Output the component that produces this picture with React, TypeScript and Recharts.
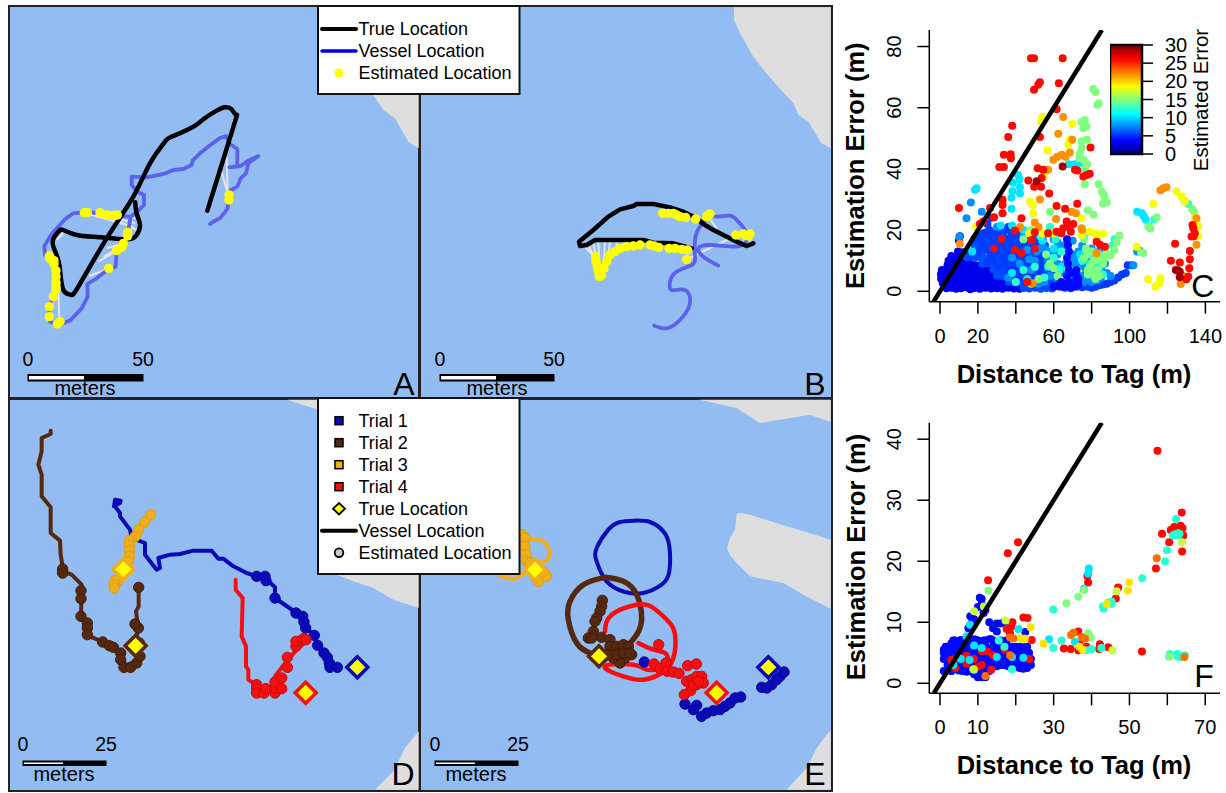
import { ComposedChart, Area, Line, Scatter, XAxis, YAxis, ReferenceArea } from 'recharts';

type Pair = number[];

const WATER = '#93bdf2';
const LAND = '#dedede';
const VESSEL = '#5c63ea';
const FONT = '"Liberation Sans", Arial, sans-serif';

// map tracks, in map units (3 units to a screen pixel, y running down)
const aTrue = [[622,632],[660,510],[705,365],[708,345],[695,328],[675,322],[650,332],[610,358],[580,380],[515,410],[495,425],[450,490],[400,590],[320,715],[235,860],[212,884],[190,870],[180,810],[170,765],[158,725],[175,695],[190,690],[230,705],[300,712],[380,718],[410,705],[420,675],[410,640],[406,607]];
const aVessel = [[630,672],[645,662],[660,655],[672,640],[683,625],[685,600],[690,572],[712,560],[722,535],[738,520],[745,490],[775,468],[745,482],[722,498],[688,502],[712,500],[712,447],[690,432],[678,408],[660,414],[630,436],[600,460],[578,482],[575,495],[550,507],[520,510],[497,520],[470,526],[440,532],[395,530],[395,555],[412,575],[432,585],[432,615],[415,632],[392,650],[385,690],[372,725],[350,752],[347,800],[322,810],[290,835],[262,852],[263,890],[245,925],[212,960],[178,975],[150,965],[148,950],[148,920],[160,890],[168,865],[168,810],[160,785],[135,765],[133,738],[155,702],[195,658],[220,640],[260,636],[300,640],[350,648],[392,650]];
const aEst = [[253,638],[262,638],[300,638],[320,645],[327,646],[343,646],[352,645],[383,697],[383,708],[370,730],[365,742],[350,752],[326,805],[148,768],[150,775],[162,782],[162,792],[168,812],[168,830],[168,848],[168,860],[168,868],[160,890],[148,920],[148,950],[172,972],[180,965],[687,585],[687,600]];
const aLinks = [[258,640,400,680],[300,640,405,670],[325,648,410,690],[350,648,405,655],[350,752,295,785],[365,740,310,770],[372,730,320,745],[326,805,268,828],[175,870,178,960],[170,720,190,700],[165,730,160,760],[683,585,680,470],[680,570,665,515],[148,950,160,900]];
const aLand = [[1120,18,285],[1150,18,330],[1185,18,355],[1225,18,425],[1256,18,445]];

const bTrue = [[815,745],[760,730],[700,728],[670,720],[600,720],[525,720],[500,735],[480,738],[477,725],[520,690],[565,650],[600,628],[640,618],[650,612],[700,612],[750,622],[790,635],[830,655],[850,672],[880,690],[910,705],[950,725],[980,738],[1000,730]];
const bVessel = [[703,977],[740,985],[775,965],[805,925],[808,885],[785,868],[755,870],[750,845],[770,815],[815,795],[825,770],[825,720],[840,680],[870,650],[890,650],[930,647],[955,665],[980,700],[975,730],[940,740],[870,735],[835,745],[850,770],[895,797]];
const bEst = [[527,770],[528,785],[532,800],[535,815],[538,830],[545,825],[552,805],[560,785],[570,765],[585,755],[600,745],[620,740],[640,738],[660,735],[690,735],[703,738],[716,742],[747,745],[765,745],[785,748],[803,750],[800,778],[728,640],[745,640],[760,640],[770,645],[780,650],[797,652],[827,657],[860,650],[865,645],[870,642],[947,705],[970,702],[985,708],[990,702]];
const bLinks = [[527,775,490,735],[530,790,505,735],[535,810,520,730],[540,825,535,728],[550,810,555,725],[565,770,570,725],[590,750,590,725],[610,745,610,725],[800,778,945,708],[865,650,890,685],[985,708,990,725],[970,702,975,735],[947,705,950,725]];
const bLand = [[942,22,60],[960,22,100],[1000,22,170],[1035,22,215],[1070,22,255],[1120,22,310],[1135,22,345],[1165,22,365],[1205,22,430],[1232,22,445]];

const dBlueLine = [[345,305],[342,325],[360,315],[362,308],[345,305],[345,325],[360,345],[360,355],[390,395],[395,420],[435,435],[435,470],[470,515],[480,510],[475,480],[510,470],[540,468],[580,458],[635,458],[655,482],[670,482],[700,505],[740,525],[770,535],[795,540],[825,568],[825,600],[890,645],[910,660],[915,685],[945,715],[952,745],[975,770],[990,805],[1015,808]];
const dBluePts = [[770,535],[795,535],[798,548],[825,600],[888,645],[908,655],[912,672],[917,690],[943,712],[953,742],[972,765],[982,778],[988,795],[990,808],[1012,808]];
const dBrownLine = [[152,98],[152,108],[125,120],[125,160],[115,200],[125,230],[125,295],[152,328],[152,405],[180,428],[182,470],[190,520],[215,530],[245,560],[243,655],[262,680],[262,712],[305,730],[360,765],[370,805],[410,790],[420,770],[400,760],[405,740],[415,690],[408,640],[416,625],[416,570]];
const dBrownPts = [[188,513],[188,525],[243,578],[243,602],[243,655],[262,675],[262,690],[262,710],[308,732],[328,743],[340,748],[362,765],[362,785],[372,808],[392,808],[410,795],[420,775],[418,735],[415,690],[405,678],[416,568]];
const dGoldPts = [[452,350],[434,372],[416,395],[406,415],[388,428],[388,442],[388,458],[388,475],[385,490],[375,510],[365,535],[355,548],[345,548],[342,560],[343,570]];
const dRedLine = [[707,545],[707,575],[728,600],[725,715],[738,745],[738,805],[745,815],[745,845],[770,860],[800,880],[825,875],[825,835],[860,790],[890,755],[930,720]];
const dRedPts = [[770,860],[770,872],[770,885],[792,885],[798,872],[825,885],[825,870],[825,852],[845,872],[845,840],[862,808],[862,778],[888,745],[888,730],[910,722],[918,725]];
const dTrue = [[1072,808],[407,743],[370,514],[917,884]];
const dLandTop = [[862,5,5],[900,5,18],[955,5,35]];
const dLandMid = [[1010,520,530],[1060,520,550],[1120,520,570],[1180,520,605],[1256,520,630]];
const dLandLow = [[1125,1175,1175],[1180,1120,1175],[1215,1050,1175],[1256,1000,1175]];

const eBlueLine = [[640,368],[690,372],[730,400],[748,445],[748,520],[725,560],[670,585],[615,582],[560,550],[530,490],[530,450],[565,395],[600,372],[640,368]];
const eBluePts = [[795,918],[820,935],[830,922],[845,955],[860,945],[880,938],[900,935],[915,925],[930,915],[945,900],[962,897],[1025,868],[1040,870],[1055,860],[1070,845],[1080,835],[1092,822],[673,792]];
const eBrownLine = [[555,538],[610,550],[650,590],[665,660],[650,710],[610,755],[560,778],[510,765],[470,735],[445,665],[450,610],[490,560],[555,538]];
const eBrownPts = [[547,607],[545,625],[540,640],[530,660],[525,670],[520,700],[505,720],[515,720],[545,718],[570,725],[570,745],[590,745],[610,740],[625,745],[635,770],[615,780],[600,795],[580,780],[560,770],[590,770],[610,765],[630,765]];
const eGoldLine = [[330,425],[370,430],[388,465],[375,490],[340,500],[300,535],[270,542],[235,530]];
const eGoldPts = [[305,410],[315,420],[315,445],[318,470],[320,490],[330,495],[345,535],[355,550],[380,535],[370,520]];
const eRedLine = [[555,700],[575,650],[650,620],[700,630],[745,670],[765,710],[760,780],[725,825],[670,845],[610,835],[555,805],[640,800],[680,815],[730,810],[745,790],[735,765],[700,755],[655,735]];
const eRedPts = [[716,740],[702,798],[720,812],[738,795],[742,820],[760,822],[777,826],[803,803],[829,798],[800,850],[815,845],[830,835],[845,835],[850,855],[830,860],[812,878],[793,890],[820,860],[835,850]];
const eTrue = [[1045,808],[537,775],[345,515],[890,884]];
const eLandTop = [[838,5,5],[950,5,30],[1020,5,75],[1080,5,65],[1170,5,50],[1232,5,72]];
const eLandMid = [[922,447,452],[930,420,472],[945,395,490],[950,347,495],[965,345,510],[990,350,535],[1090,382,555],[1150,400,590],[1232,425,632]];
const eLandLow = [[1100,1175,1175],[1160,1110,1175],[1190,1050,1175],[1232,995,1175]];

// panel C: [distance to tag, estimation error], grouped by estimated error
const cDeep = [[3.5,1],[6.2,1.2],[8.5,0.8],[11,1],[13.6,1.3],[16,0.7],[18.2,1.1],[21,0.8],[24,1.2],[27,0.9],[30,1],[33,0.8],[36,1.2],[39,0.9],[42,0.8],[1.5,2.6],[4,2.4],[6.5,2.7],[9,2.3],[12,2.6],[14,2.4],[17,2.8],[19.5,2.3],[22,2.6],[25,2.5],[28,2.2],[31,2.7],[34,2.4],[37,2.6],[40,2.2],[0.6,4],[3,4.2],[5.5,3.9],[8,4.3],[10.5,4],[13,4.2],[15.5,3.8],[18,4.2],[20.5,4],[23,4.3],[26,3.9],[29,4.2],[32,4],[35,3.7],[0.5,5.6],[2.5,5.4],[5,5.7],[7.5,5.3],[10,5.6],[12.5,5.5],[15,5.8],[18,5.4],[21,5.6],[24,5.3],[27,5.7],[30,5.4],[1,7],[3.5,7.2],[6,6.9],[9,7.2],[12,7],[14.5,7.2],[17,6.8],[20,7.1],[23,6.9],[26,7.2],[4,8.6],[6.5,8.8],[9,8.4],[11.5,8.7],[14,8.5],[17,8.8],[20,8.4],[22.5,8.7],[4.5,10],[7,10.2],[9.5,9.9],[12,10.2],[15,10],[6,11.5],[8.5,11.3],[11,11.6],[13.5,11.4],[9.5,13],[12,12.8],[10,16.5],[10.5,18]];
const cBlue = [[25,22],[26,20],[27,24],[26,18],[28,16],[24,14],[22,16],[20,13],[18,17],[16,12],[30,19],[32,21],[34,20],[36,21],[38,19],[40,18],[42,20],[44,16],[46,17],[48,14],[50,12],[30,13],[33,15],[35,13],[37,16],[39,12],[41,14],[43,11],[45,12],[47,10],[49,9],[52,11],[54,13],[28,10],[31,8],[34,9],[37,10],[40,8],[43,7],[46,6],[49,5],[52,6],[55,8],[58,7],[61,6],[45,3],[48,2],[51,3],[54,2],[57,4],[60,2],[63,1.5],[66,1.2],[69,1],[72,1.5],[75,1.3],[78,1.5],[80,1.2],[82,1.5],[84,2],[86,2.2],[88,2.5],[90,3],[92,3.5],[94,4.5],[96,5.5],[98,6],[99,8.5],[101,8.5],[33,11],[36,7],[39,5.5],[42,4.5],[44,9],[47,8],[50,4],[53,8.5],[56,5],[29,15],[31,17],[23,19],[21,18],[27,12],[25,9.5],[35,17],[38,14],[40,10.5],[42,15.5],[44,13],[48,17],[51,15],[53,16],[56,11]];
const cFill = [[24.3,19.2],[28.1,19],[33.2,18.7],[37.4,19.3],[41.2,19],[45,18.6],[20.2,17.2],[23.4,17],[26.3,16.8],[30.2,17.3],[33.4,16.9],[36.1,17.2],[39.3,16.7],[43.2,17.1],[46.3,16.8],[50.1,17.2],[54.2,16.9],[18.2,15.1],[21.3,14.8],[25.2,15.2],[27.4,14.9],[31.1,15.3],[34.2,14.8],[37.3,15.1],[40.2,15.2],[43.1,14.8],[46.2,15.1],[49.3,15.2],[52.1,14.9],[55.4,15],[15.3,13.1],[19.1,13.2],[22.3,12.9],[26.1,13.2],[29.2,12.8],[32.3,13.1],[36.2,13],[38.4,12.8],[41.1,13.2],[44.3,12.9],[47.2,13.1],[50.3,12.8],[53.2,13.2],[56.1,13],[59.2,12.8],[14.2,11.1],[18.1,10.9],[21.2,11.2],[24.3,10.8],[27.1,11.1],[30.4,10.9],[35.2,11.2],[38.1,11],[41.3,10.8],[45.2,11.1],[48.1,10.9],[51.3,11.2],[54.2,10.8],[57.1,11],[22.3,9],[25.1,9.2],[28.3,8.8],[30.2,9.1],[33.4,9.2],[36.1,8.9],[39.2,9.1],[42.3,8.8],[45.1,9.2],[48.2,8.9],[51.3,9.1],[54.1,9],[57.3,8.8],[28.2,7.1],[30.3,6.9],[33.1,7.2],[35.2,6.8],[38.3,7.1],[41.1,6.9],[44.2,7.2],[47.3,6.8],[50.1,7.1],[53.2,7],[56.3,6.9],[30.1,5.1],[33.2,4.9],[36.3,5.2],[38.1,4.8],[41.2,5.1],[44.3,4.9],[47.1,5.2],[50.2,4.8],[53.3,5.1],[59.2,5],[36.2,3.1],[39.1,2.9],[42.3,3.2],[44.1,2.8],[47.2,3.1],[53.3,2.9],[56.1,3.2],[59.3,3],[44.2,1.1],[47.1,0.9],[50.3,1.2],[53.2,0.8],[56.2,1.1],[59.1,0.9]];
const cAzure = [[16.3,29],[14,23.9],[22,26],[10.2,17.9],[104,13],[105.5,13.2],[102,8.5],[47,10.5],[51,13],[55,14],[58,13],[44,18],[46,13.5],[57,10],[60,9],[62,12],[65,15],[70,12],[72,9],[75,15],[70,16.5],[62,4],[76,8],[78,4],[80,3],[85,4.5],[30,21],[48,7],[52,2.5],[58,5],[36,4.5],[62,9],[64,6],[66,9],[69,9],[71,11],[73,13],[74,5],[76,3],[77,6],[79,11],[81,8],[83,3.5],[85,7],[87,9],[88,6],[90,5],[84,13],[80,14],[70,4],[63,14],[60,17],[62,16],[55,3],[59,11],[42,9],[38,11],[50,10],[53,14]];
const cCyan = [[19.3,33.7],[18.5,33.2],[41.3,38],[42,36.5],[38.5,35.5],[42.2,34],[38.2,32.7],[42.2,32],[37.7,30.6],[37.7,27],[68,41.5],[71,41.5],[73,41.8],[75,42.5],[104,26],[106.5,25.5],[107.5,24.5],[108.5,23.5],[17,13],[32,21.5],[38,21.5],[44,20],[54,16.5],[60,14],[64,8],[74,12],[79,9],[81,5],[46,4],[38,6]];
const cAqua = [[53,18],[58,21],[61,17],[57,8],[60,11],[63,7],[55,4.5],[75,10],[80,6],[84,8],[86,5.5],[82,11],[76,18],[44,7],[40,3],[113,23.5],[110,21.5],[129,29.5],[131,28.5],[92,17],[91,15],[50,8],[64,13]];
const cGreen = [[80.8,66.1],[82,65.1],[83,61],[83.8,61.5],[76.4,56],[74.7,55.3],[77.3,53.9],[75.6,53.3],[77.5,49.5],[74.7,49],[74.7,47],[73.8,45],[73.5,43.5],[75.6,43],[77.6,41.5],[76.4,40],[76.4,35],[83.7,35],[85.3,32.5],[86.5,31.5],[87,30],[86,28.7],[88,29],[78,26.5],[81,25],[58,26],[106,12.8],[107.3,12.5],[114.3,24.2],[110,21],[111,20.5],[94.6,18.2],[93.2,16],[92,13.5],[90,11.8],[88,12.5],[133,27],[134,26],[44,17],[48,20],[56,12],[60,7.5],[62,5],[58,9],[52,4],[48,2.5],[78,7],[80,9],[82,6],[85,10],[84,12],[76,17],[77,14],[78,5.5],[79,8],[81,10],[83,7],[84,5],[86,9],[82,4],[76,11],[78,12],[80,13],[87,11]];
const cYellow = [[54,57],[53.3,55.5],[69.8,54.7],[56.6,46],[54.8,37.5],[47.5,29.3],[48.9,28.2],[49.2,25.5],[67.7,47.9],[68.5,49.7],[74.7,23.9],[86,18.8],[82,19],[47,19],[54,19],[74.7,18.5],[19,21.2],[103.7,14.6],[109.8,3.9],[116.3,4.3],[115.6,2.6],[113.7,1.5],[112.5,28.5],[124.8,32.6],[127.4,31],[129.2,29.3],[136.2,21.2],[136.2,18],[135.3,22.5],[134.4,24],[60,19],[83,18],[79,19.5]];
const cOrange = [[65,57],[62.4,51.5],[69.8,49.5],[59.8,43],[61.9,44],[64.2,44.6],[66.3,44],[68.5,45.4],[57,39.7],[52.7,30],[61.2,23.6],[69.4,26],[71.7,25.5],[42.2,21],[10.5,15.5],[50,22.5],[82.6,12.4],[135.3,15.2],[116.3,33],[117.8,33.7],[119.5,34],[127,2.4],[128.3,5],[135.3,23.9],[74.7,20.6],[52,21],[48.9,2.6],[75,20]];
const cRed = [[48,76.2],[49.6,76.2],[64.7,76.2],[52.7,68.3],[51.8,67.5],[49.6,65.9],[62.7,68],[61.5,59.5],[38.1,54.1],[36,50.4],[52.7,50.4],[33.7,44.6],[37.3,44.8],[37.4,43.5],[31.3,40.6],[33.7,40.6],[46.6,36.2],[51.5,40.2],[54.5,39.7],[53.6,37],[53.3,34.2],[49.7,34.2],[57.6,32],[10,27.2],[26.4,27.2],[33,29.9],[33,28.2],[33,25.5],[28.5,24.2],[61.5,27.9],[66,27],[72.4,28.6],[79.4,47],[71.2,39.7],[72.4,39.5],[75.6,37.5],[77.3,38],[79,38.4],[43,23.9],[21,22],[22.8,22.8],[65,20.6],[66.8,22.8],[68.5,21.2],[70.3,22],[64,19],[69,19.5],[50,19.3],[57,19],[61.5,19.5],[39.5,19.8],[32.5,17.1],[28.6,14],[39.5,13.5],[50,14],[48.3,16.8],[82.6,16.2],[84.4,15.2],[87,14.6],[124,15.5],[121.8,10],[126.5,9.4],[131.8,13.2],[131.8,10.5],[131.5,7.5],[131,4.8],[130,3.9],[133.6,20.6],[132.7,17.9],[134.4,19],[133.2,21.7],[133.8,18],[46,3],[43,12.5]];
const cDark = [[51,36],[64.7,40.8],[124.4,7],[126.5,6.4],[126.5,4.6],[125.5,6.8]];
const cStreak = [[67,17],[67.5,15],[68,13],[67,11],[67.5,9],[68,7],[67,5],[68,3],[70,6],[71,3],[72,5],[73,2],[62,2],[64,3],[60,1.5],[65,1.5],[70,1.5],[73,4],[72,7],[68.5,1.5]];

// panel F: same layout
const fDense = [[3.5,7],[5.5,7.1],[7.5,6.9],[9.5,7.1],[11.5,7],[13.5,7.2],[15.5,6.9],[17.5,7],[1.5,6],[3,6.1],[4.5,5.9],[6,6.1],[8,6],[10,5.9],[12,6.1],[14,6],[16,5.9],[18,6.1],[20,6],[22,5.9],[1,5],[2.5,5.1],[4.5,4.9],[6,5.1],[8,5],[9.5,4.9],[11,5.1],[13,5],[15,4.9],[17,5.1],[19,5],[21,4.9],[23,5.1],[1.5,4],[3.5,4.1],[5,3.9],[6.5,4.1],[8.5,4],[10,3.9],[12,4.1],[14,4],[16,3.9],[18,4.1],[20,4],[22,3.9],[23.5,4.1],[2.5,3],[4.5,3.1],[6.5,2.9],[8.5,3.1],[10,3],[11.5,2.9],[14,3.1],[16,3],[18,2.9],[20,3.1],[21.5,3],[22.5,2.9],[3,2],[5,2.1],[7,1.9],[9,2.1],[10,1.9],[11,2],[13,2.1]];
const fBlue = [[1,2],[2,3],[2,4.5],[1,4],[1,5.5],[2,6],[3,6.5],[4,7],[5,6.8],[6,7],[7,6.5],[8,6.8],[9,7.2],[10,7],[11,6.5],[12,7],[13,7.2],[14,7],[15,6.8],[16,7],[17,6.5],[18,6],[19,6],[20,5.8],[21,6],[22,5.5],[23,6],[23.5,5],[24,4],[24,3],[23,2.5],[22,2.4],[21,2.5],[20,2.8],[19,2.4],[18,2.8],[17,3],[16,3.5],[15,4],[14,4.5],[13,4],[12,3],[12,2],[11,1],[10,1],[9,1.5],[8,2],[7,2.5],[6,3],[5,2.5],[4,2.4],[3,2],[3,4],[4,5],[5,4.5],[6,5],[7,4.5],[8,5.5],[9,4],[10,5],[11,4],[12,5.5],[13,5.5],[14,6],[15,5.5],[16,5],[17,4.5],[18,4.5],[19,4],[20,4.5],[21,4],[22,3.5],[3,5.5],[5,6],[7,5.7],[9,6],[11,5.5],[13,3],[15,2.8],[17,5.5],[19,5.3],[10,3],[8,3.5],[6,2],[8,11],[9,10.5],[8,9],[7.5,9],[8.5,10],[10,12.5],[10.5,14],[11,13.8],[11,13],[12,12],[11.5,11.5],[13,10],[14,9],[15,8.5],[15,9.8],[16,9.8],[17,10],[22.5,8.4],[12,1],[13,2],[10.5,2]];
const fCyan = [[39.3,18.8],[39.1,18],[38,15.5],[28.8,7.2],[35.6,6.8],[20.7,8.9],[7.9,9.6],[7,7.7],[19,4.3],[9,6.2],[5.5,4],[11,5.8],[22,4.2],[15,4.3],[7.8,3.8],[3.5,3]];
const fAqua = [[29.9,12.1],[32.1,7],[29.9,5.8],[53.4,17.2],[59.4,20],[59.9,21.8],[62.3,26.9],[61.5,24.2],[62,24.4],[62.6,24.5],[63.2,24.5],[62.9,24.2],[43,12.6],[43.2,12.2],[45.3,13.4],[45.3,13],[44.4,13.2],[40,5.6],[38.5,5.4],[42.6,5.8],[60.7,4.8],[60.5,4.4],[62.6,4.8],[63.5,4.3],[64.6,4.6],[62.8,4.4],[9,2.2],[15.5,7],[17,6],[19,2.3]];
const fGreen = [[33.4,13.1],[36.5,14.2],[38,15.3],[12.8,15.2],[39.1,8.2],[39.8,7.5],[60.7,4.4]];
const fLime = [[63.9,23.1],[9,11.8],[11.6,12.6],[45.5,5.4],[46.6,15.1],[17.3,10.3],[8.8,2.3]];
const fYellow = [[49.9,16.5],[49.6,15.2],[27.3,6.5],[23.9,9.2],[22,7.3],[22.4,7.3],[21,7.4],[36.8,6],[44,13],[37.6,5.5]];
const fOrange = [[57.2,20.5],[34.6,7.9],[35.2,8.3],[37.4,7.6],[38.3,7.3],[18.5,7.5],[19.3,7.4],[64.5,4.3],[18.5,4.6],[12,1.2]];
const fRed = [[57.4,38.1],[20.6,23.1],[17.9,21.3],[12.7,16.9],[63.8,28],[63.5,25.8],[64,25.4],[61.8,25.6],[60.9,25.1],[58.6,24.5],[64.2,24.2],[60.5,23.1],[63.9,21.6],[57,18.8],[53.3,5.2],[47,15.7],[46.4,13.9],[38.9,17.6],[39.1,16.5],[44.4,5.9],[42.2,6.4],[42,5.6],[36.5,8.5],[32.7,5.7],[34.5,5.6],[36.5,5.4],[36.8,6.4],[38.7,6],[24.2,7.1],[22,10.8],[23.1,10.7],[19.1,10],[18.9,9.3],[17.6,8.9],[18.5,8.2],[4,4],[3,3.8],[5,4.2],[7,4.5],[9,4],[11,5.3],[12.5,5.2],[11,3],[10,2.7],[13.5,2.2],[4,2.5],[23.5,4],[17,5.6],[7,3.2],[14,4.6]];

const cGroups = [
  { est: 3.2, pts: cDeep }, { est: 6, pts: cFill }, { est: 5.5, pts: cBlue }, { est: 8, pts: cAzure }, { est: 10.5, pts: cCyan },
  { est: 12.5, pts: cAqua }, { est: 15, pts: cGreen }, { est: 18.5, pts: cYellow }, { est: 22, pts: cOrange },
  { est: 26, pts: cRed }, { est: 29, pts: cDark }, { est: 4, pts: cStreak },
];
const fGroups = [
  { est: 4, pts: fDense }, { est: 4, pts: fBlue }, { est: 26, pts: fRed }, { est: 10.5, pts: fCyan }, { est: 12.5, pts: fAqua },
  { est: 15, pts: fGreen }, { est: 17, pts: fLime }, { est: 19.5, pts: fYellow }, { est: 23, pts: fOrange },
];

const colorbarTicks = [0, 5, 10, 15, 20, 25, 30];
const colorbarLevels = Array.from({ length: 60 }, (_, i) => i / 2);
const colorbarRange = [{ x: 0, y: 0 }, { x: 1, y: 30 }];
const legendA = ['True Location', 'Vessel Location', 'Estimated Location'];
const legendD = ['Trial 1', 'Trial 2', 'Trial 3', 'Trial 4', 'True Location', 'Vessel Location', 'Estimated Location'];
const trialColors = ['#0a0ab8', '#56290f', '#f0ae1c', '#f50f0f'];

function jet(v: number) {
  const t = v / 30;
  const c = (n: number) => Math.round(255 * Math.max(0, Math.min(1, 1.5 - Math.abs(4 * t - n))));
  return `rgb(${c(3)},${c(2)},${c(1)})`;
}

const rows = (pairs: Pair[]) => pairs.map(([x, y]) => ({ x, y }));
const bands = (triples: Pair[]) => triples.map(([x, lo, hi]) => ({ x, band: [lo, hi] }));
const links = (segs: Pair[]) =>
  segs.flatMap(([x1, y1, x2, y2]) => [{ x: x1, y: y1 }, { x: x2, y: y2 }, { x: x2, y: null }]);

const dot = (r: number, fill: string, stroke = 'none', sw = 0) => (p: any) => (
  <circle cx={p.cx} cy={p.cy} r={r} fill={fill} stroke={stroke} strokeWidth={sw} />
);
const diamond = (p: any) => {
  const d = 10.5;
  return (
    <polygon
      points={`${p.cx},${p.cy - d} ${p.cx + d},${p.cy} ${p.cx},${p.cy + d} ${p.cx - d},${p.cy}`}
      fill="#ffff00"
      stroke={trialColors[p.index]}
      strokeWidth={3.5}
    />
  );
};

const track = (key: string, pairs: Pair[], stroke: string, width: number, curve: any = 'linear') => (
  <Line
    key={key}
    data={rows(pairs)}
    dataKey="y"
    type={curve}
    stroke={stroke}
    strokeWidth={width}
    strokeLinejoin="round"
    strokeLinecap="round"
    dot={false}
    activeDot={false}
    isAnimationActive={false}
  />
);
const land = (key: string, triples: Pair[]) => (
  <Area
    key={key}
    data={bands(triples)}
    dataKey="band"
    type="linear"
    stroke="none"
    fill={LAND}
    fillOpacity={1}
    dot={false}
    activeDot={false}
    isAnimationActive={false}
  />
);
const marks = (key: string, pairs: Pair[], shape: any) => (
  <Scatter key={key} data={rows(pairs)} shape={shape} isAnimationActive={false} />
);
const connectors = (segs: Pair[]) => (
  <Line
    data={links(segs)}
    dataKey="y"
    stroke="#e6e6e6"
    strokeWidth={2}
    dot={false}
    activeDot={false}
    connectNulls={false}
    isAnimationActive={false}
  />
);

function MapPanel({ left, top, width, height, children }: any) {
  return (
    <div style={{ position: 'absolute', left, top, width, height }}>
      <ComposedChart width={width} height={height} margin={{ top: 0, right: 0, bottom: 0, left: 0 }}>
        <XAxis type="number" dataKey="x" domain={[0, width * 3]} hide allowDataOverflow />
        <YAxis type="number" dataKey="y" domain={[0, height * 3]} reversed hide allowDataOverflow />
        {children}
      </ComposedChart>
    </div>
  );
}

function ErrorPanel({ top, height, groups, xDomain, yDomain, xTicks, xLabels, yTicks, plotTop, plotBottom, diag }: any) {
  const XTick = ({ x, y, payload }: any) =>
    xLabels.includes(payload.value) ? (
      <text x={x} y={y + 27} textAnchor="middle" fontSize={20} fontFamily={FONT} fill="#000">
        {payload.value}
      </text>
    ) : (
      <g />
    );
  const YTick = ({ y, payload }: any) => (
    <text
      x={61.5}
      y={y}
      transform={`rotate(-90 61.5 ${y})`}
      textAnchor="middle"
      fontSize={20}
      fontFamily={FONT}
      fill="#000"
    >
      {payload.value}
    </text>
  );
  return (
    <div style={{ position: 'absolute', left: 840, top, width: 386, height }}>
      <ComposedChart width={386} height={height} margin={{ top: plotTop, right: 6, bottom: 0, left: 0 }}>
        <XAxis
          type="number"
          dataKey="x"
          domain={xDomain}
          ticks={xTicks}
          interval={0}
          height={height - plotBottom}
          tickSize={12}
          tick={XTick}
          stroke="#000"
          strokeWidth={1.5}
          allowDataOverflow
        />
        <YAxis
          type="number"
          dataKey="y"
          domain={yDomain}
          ticks={yTicks}
          interval={0}
          width={89.3}
          tickSize={12}
          tick={YTick}
          stroke="#000"
          strokeWidth={1.5}
          allowDataOverflow
        />
        {groups.map((g: any, i: number) => (
          <Scatter key={i} data={rows(g.pts)} shape={dot(4, jet(g.est))} isAnimationActive={false} />
        ))}
        <Scatter
          data={rows(diag)}
          line={{ stroke: '#000', strokeWidth: 4.5 }}
          shape={() => <g />}
          isAnimationActive={false}
        />
      </ComposedChart>
    </div>
  );
}

function ColorBar() {
  const NumTick = ({ y, payload }: any) => (
    <text x={55} y={y + 7} fontSize={20} fontFamily={FONT} fill="#000">
      {payload.value}
    </text>
  );
  return (
    <div style={{ position: 'absolute', left: 1110, top: 35, width: 90, height: 130 }}>
      <ComposedChart width={90} height={130} margin={{ top: 10, right: 0, bottom: 11, left: 0 }}>
        <XAxis type="number" dataKey="x" domain={[0, 1]} hide />
        <YAxis
          type="number"
          dataKey="y"
          orientation="right"
          domain={[0, 30]}
          ticks={colorbarTicks}
          interval={0}
          width={58}
          tickSize={11}
          tick={NumTick}
          stroke="#000"
          strokeWidth={1.5}
          axisLine={false}
        />
        <Scatter data={colorbarRange} shape={() => <g />} isAnimationActive={false} />
        {colorbarLevels.map((v) => (
          <ReferenceArea key={v} x1={0} x2={1} y1={v} y2={v + 0.5} fill={jet(v + 0.25)} stroke={jet(v + 0.25)} fillOpacity={1} />
        ))}
        <ReferenceArea x1={0} x2={1} y1={0} y2={30} fill="none" stroke="#000" strokeWidth={2.5} />
      </ComposedChart>
    </div>
  );
}

function ScaleBar({ x0, x1, xMid, yLabel, yBar, barH, yText, label }: any) {
  return (
    <g fontFamily={FONT} fill="#000">
      <text x={x0} y={yLabel} fontSize={19.5} textAnchor="middle">0</text>
      <text x={x1} y={yLabel} fontSize={19.5} textAnchor="middle">{label}</text>
      <rect x={x0} y={yBar} width={x1 - x0} height={barH} fill="#000" stroke="#000" />
      <rect x={x0 + 1} y={yBar + 1.5} width={xMid - x0 - 1} height={barH - 3} fill="#fff" />
      <text x={xMid + 1} y={yText} fontSize={20} textAnchor="middle">meters</text>
    </g>
  );
}

function Overlay() {
  const rowY = (i: number, first: number) => first + i * 22;
  return (
    <svg width={1226} height={793} style={{ position: 'absolute', left: 0, top: 0, pointerEvents: 'none' }}>
      <g fontFamily={FONT} fontSize={18} fill="#000">
        <rect x={318} y={6} width={201.5} height={88} fill="#fff" stroke="#111" strokeWidth={2} />
        {legendA.map((t, i) => (
          <text key={t} x={358.5} y={rowY(i, 29) + 6}>{t}</text>
        ))}
        <line x1={322} x2={356} y1={29} y2={29} stroke="#000" strokeWidth={4} strokeLinecap="round" />
        <line x1={322} x2={356} y1={51} y2={51} stroke="#0000e6" strokeWidth={3.5} strokeLinecap="round" />
        <circle cx={339} cy={73} r={4.5} fill="#ffff00" />

        <rect x={318} y={398} width={201.5} height={176} fill="#fff" stroke="#111" strokeWidth={2} />
        {legendD.map((t, i) => (
          <text key={t} x={358.5} y={rowY(i, 420.7) + 6}>{t}</text>
        ))}
        {trialColors.map((c, i) => (
          <rect key={c} x={335} y={rowY(i, 420.7) - 4} width={8} height={8} fill={c} stroke="#000" strokeWidth={1.5} />
        ))}
        <polygon points="339,503 345,508.7 339,514.4 333,508.7" fill="#ffff00" stroke="#000" strokeWidth={1.8} />
        <line x1={322} x2={356} y1={530.7} y2={530.7} stroke="#000" strokeWidth={4} strokeLinecap="round" />
        <circle cx={339} cy={552.7} r={4.3} fill="#c8c8c8" stroke="#000" strokeWidth={1.8} />
      </g>

      <ScaleBar x0={28} x1={143} xMid={84} yLabel={365.5} yBar={374.5} barH={6.5} yText={395} label="50" />
      <ScaleBar x0={440} x1={554} xMid={496} yLabel={365.5} yBar={374.5} barH={6.5} yText={395} label="50" />
      <ScaleBar x0={23} x1={106} xMid={63} yLabel={750.5} yBar={761} barH={4.5} yText={780.5} label="25" />
      <ScaleBar x0={435} x1={518} xMid={475} yLabel={750.5} yBar={761} barH={4.5} yText={780.5} label="25" />

      <g fontFamily={FONT} fontSize={32} fill="#000" textAnchor="middle">
        <text x={404} y={394.5}>A</text>
        <text x={815} y={394.5}>B</text>
        <text x={403} y={784.5}>D</text>
        <text x={815} y={784.5}>E</text>
        <text x={1202.7} y={296.5}>C</text>
        <text x={1204} y={687}>F</text>
      </g>

      <g fontFamily={FONT} fontSize={25.5} fontWeight="bold" fill="#000" textAnchor="middle">
        <text x={1074} y={382.5}>Distance to Tag (m)</text>
        <text x={1074} y={774}>Distance to Tag (m)</text>
        <text transform="rotate(-90 864.5 165.7)" x={864.5} y={165.7}>Estimation Error (m)</text>
        <text transform="rotate(-90 864.5 557)" x={864.5} y={557}>Estimation Error (m)</text>
      </g>
      <text transform="rotate(-90 1208 100)" x={1208} y={100} fontFamily={FONT} fontSize={20.5} textAnchor="middle" fill="#000">
        Estimated Error
      </text>
    </svg>
  );
}

const frame = (left: number, top: number, width: number, height: number) => (
  <div
    style={{
      position: 'absolute', left, top, width, height, boxSizing: 'border-box',
      background: WATER, border: '2px solid #222',
    }}
  />
);

export default function App() {
  return (
    <div style={{ position: 'absolute', left: 0, top: 0, width: 1226, height: 793, overflow: 'hidden', background: '#fff' }}>
      {frame(8, 5, 412, 394)}
      {frame(419, 5, 414, 394)}
      {frame(8, 398, 412, 394)}
      {frame(419, 398, 414, 394)}

      <MapPanel left={0} top={0} width={420} height={400}>
        {land('land', aLand)}
        {connectors(aLinks)}
        {track('vessel', aVessel, VESSEL, 3.8)}
        {track('true', aTrue, '#000', 4.5, 'natural')}
        {marks('est', aEst, dot(4.7, '#ffff00'))}
      </MapPanel>
      <MapPanel left={420} top={0} width={420} height={400}>
        {land('land', bLand)}
        {connectors(bLinks)}
        {track('vessel', bVessel, VESSEL, 3.8, 'natural')}
        {track('true', bTrue, '#000', 4.5)}
        {marks('est', bEst, dot(4.7, '#ffff00'))}
      </MapPanel>
      <MapPanel left={0} top={398} width={420} height={395}>
        {land('l1', dLandTop)}
        {land('l2', dLandMid)}
        {land('l3', dLandLow)}
        {track('t1', dBlueLine, trialColors[0], 4)}
        {track('t2', dBrownLine, trialColors[1], 4)}
        {track('t4', dRedLine, trialColors[3], 4)}
        {marks('p1', dBluePts, dot(5.2, trialColors[0], '#0808a0', 1))}
        {marks('p2', dBrownPts, dot(5.2, trialColors[1], '#3f1d08', 1))}
        {marks('p3', dGoldPts, dot(5.2, trialColors[2], '#dc9f14', 1))}
        {marks('p4', dRedPts, dot(5.2, trialColors[3], '#c80a0a', 1))}
        {marks('true', dTrue, diamond)}
      </MapPanel>
      <MapPanel left={420} top={398} width={420} height={395}>
        {land('l1', eLandTop)}
        {land('l2', eLandMid)}
        {land('l3', eLandLow)}
        {track('t1', eBlueLine, trialColors[0], 4, 'natural')}
        {track('t2', eBrownLine, trialColors[1], 5.5, 'natural')}
        {track('t3', eGoldLine, trialColors[2], 4, 'natural')}
        {track('t4', eRedLine, trialColors[3], 4.5, 'natural')}
        {marks('p1', eBluePts, dot(5.2, trialColors[0], '#0808a0', 1))}
        {marks('p3', eGoldPts, dot(5.2, trialColors[2], '#dc9f14', 1))}
        {marks('p4', eRedPts, dot(5.2, trialColors[3], '#c80a0a', 1))}
        {marks('p2', eBrownPts, dot(5.2, trialColors[1], '#3f1d08', 1))}
        {marks('true', eTrue, diamond)}
      </MapPanel>

      <ErrorPanel
        top={0}
        height={393}
        groups={cGroups}
        xDomain={[-5.64, 147.7]}
        yDomain={[-3.4, 85.4]}
        xTicks={[0, 20, 40, 60, 80, 100, 120, 140]}
        xLabels={[0, 20, 60, 100, 140]}
        yTicks={[0, 20, 40, 60, 80]}
        plotTop={30}
        plotBottom={301.7}
        diag={[[-3.4, -3.4], [85.4, 85.4]]}
      />
      <ColorBar />
      <ErrorPanel
        top={393}
        height={400}
        groups={fGroups}
        xDomain={[-2.82, 73.9]}
        yDomain={[-1.64, 42.7]}
        xTicks={[0, 10, 20, 30, 40, 50, 60, 70]}
        xLabels={[0, 10, 30, 50, 70]}
        yTicks={[0, 10, 20, 30, 40]}
        plotTop={29.7}
        plotBottom={300.3}
        diag={[[-1.64, -1.64], [42.7, 42.7]]}
      />
      <Overlay />
    </div>
  );
}
